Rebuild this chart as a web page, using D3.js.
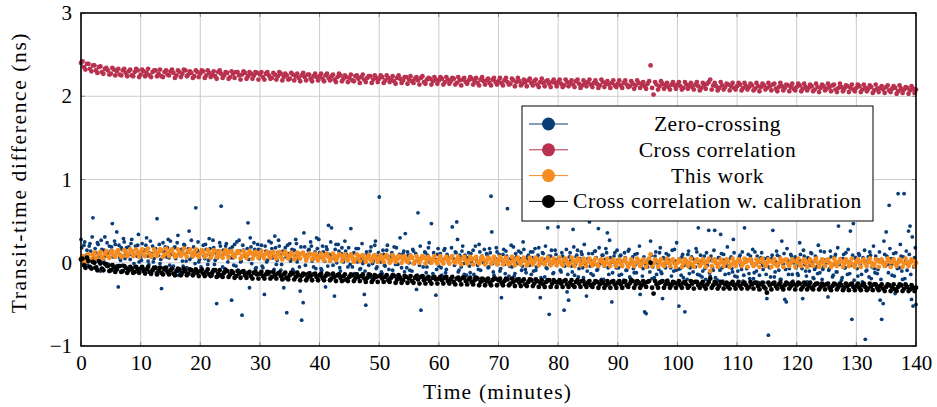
<!DOCTYPE html>
<html>
<head>
<meta charset="utf-8">
<script src="https://cdn.jsdelivr.net/npm/d3@7"></script>
<style>
  body { margin: 0; background: #fff; }
  svg text { font-family: "Liberation Serif", "DejaVu Serif", serif; fill: #000; }
</style>
</head>
<body>
<svg id="chart" width="937" height="407"></svg>
<script>
// sampling of the series (minutes between samples)
var blueStep = 0.25;
var bandStep = 0.5;

// Zero-crossing (ns), samples at t = 0, 0.25, 0.5, ...
var zeroCrossing = [
  0.28, 0.05, 0.21, -0.02, 0.15, 0.10, 0.23, 0.02, 0.54, -0.06, 0.12, 0.24, 0.08, -0.10, 0.16, 0.03, 0.31, -0.04, 0.11, 0.20,
  0.14, 0.47, -0.08, 0.22, 0.37, -0.29, 0.06, 0.18, -0.03, 0.25, 0.11, -0.12, 0.19, 0.04, 0.28, 0.09, -0.05, 0.16, 0.21, 0.01,
  0.07, 0.23, -0.07, 0.15, 0.30, 0.02, 0.12, -0.14, 0.20, 0.05, 0.17, 0.53, 0.09, -0.01, -0.31, 0.24, 0.13, -0.09, 0.18, 0.06,
  0.26, 0.10, -0.04, 0.19, 0.08, 0.33, -0.11, 0.14, 0.02, 0.22, 0.11, -0.06, 0.17, 0.04, 0.27, 0.09, -0.13, 0.66, 0.15, 0.01,
  0.12, -0.08, 0.21, 0.05, 0.16, -0.02, 0.29, 0.09, -0.15, 0.18, 0.03, -0.49, 0.14, 0.24, 0.68, -0.05, 0.11, 0.20, -0.10, 0.07,
  0.17, -0.45, 0.06, 0.22, -0.04, 0.13, 0.27, 0.01, -0.63, 0.15, 0.08, -0.12, 0.48, -0.30, 0.19, 0.05, 0.24, -0.07, 0.10, 0.16,
  0.09, 0.21, -0.06, -0.38, 0.14, 0.03, 0.26, -0.11, 0.17, 0.07, 0.32, -0.02, 0.12, 0.20, -0.09, 0.05, -0.30, 0.18, -0.60, 0.10,
  0.23, 0.04, -0.08, 0.15, 0.28, 0.01, 0.11, -0.34, -0.69, -0.48, 0.19, 0.06, -0.13, 0.16, 0.25, 0.02, -0.05, 0.13, 0.30, 0.08,
  0.12, -0.07, 0.20, 0.03, -0.29, 0.16, 0.45, 0.09, 0.42, -0.03, -0.40, 0.22, 0.07, 0.14, -0.10, 0.18, 0.01, 0.26, 0.10, -0.05,
  0.08, 0.41, -0.05, 0.12, -0.15, 0.04, 0.17, -0.08, 0.06, -0.01, -0.38, -0.51, 0.10, -0.03, 0.14, -0.18, 0.02, 0.21, -0.07, 0.07,
  0.79, 0.01, -0.13, 0.10, -0.04, 0.15, -0.19, 0.03, 0.08, -0.09, 0.19, -0.02, -0.16, 0.06, 0.30, -0.06, 0.11, -0.11, 0.04, 0.13,
  0.00, 0.09, -0.10, 0.14, 0.02, -0.32, 0.60, -0.03, -0.57, 0.07, -0.17, 0.12, -0.05, 0.18, 0.01, 0.47, -0.13, 0.05, -0.39, 0.10,
  -0.04, 0.11, -0.15, 0.04, 0.17, -0.08, 0.07, -0.01, -0.20, 0.43, 0.02, 0.13, 0.49, -0.11, 0.09, -0.05, 0.20, -0.14, 0.03, 0.06,
  0.12, -0.12, 0.01, 0.15, -0.18, 0.06, -0.03, 0.22, -0.09, 0.08, 0.00, -0.21, 0.11, -0.06, 0.17, 0.80, -0.01, -0.15, 0.05, 0.13,
  0.03, -0.10, -0.42, 0.10, -0.02, 0.14, 0.65, -0.16, 0.05, -0.05, 0.19, -0.13, 0.07, 0.01, -0.19, 0.12, -0.04, 0.16, -0.08, 0.04,
  0.09, -0.03, -0.14, 0.13, 0.02, -0.09, 0.06, 0.18, -0.42, 0.00, 0.11, -0.17, -0.06, 0.42, -0.62, 0.08, -0.01, -0.12, 0.15, 0.03,
  0.43, 0.01, -0.11, 0.08, -0.57, 0.04, -0.35, -0.45, 0.12, -0.04, 0.40, -0.15, 0.07, 0.15, -0.07, 0.02, 0.10, -0.18, -0.01, -0.40,
  0.05, 0.49, -0.13, 0.11, -0.02, 0.14, -0.09, 0.41, 0.03, -0.20, 0.09, -0.04, 0.17, 0.36, -0.14, 0.06, -0.47, 0.01, 0.12, -0.06,
  0.03, -0.15, 0.09, -0.04, -0.21, 0.06, -0.09, 0.14, -0.17, 0.00, 0.07, -0.12, -0.02, 0.11, -0.23, -0.38, 0.02, -0.07, -0.59, -0.61,
  -0.05, 0.04, 0.26, -0.19, -0.01, 0.08, -0.14, 0.01, 0.12, -0.11, -0.43, 0.05, -0.06, -0.22, 0.09, -0.03, -0.16, 0.03, 0.16, -0.09,
  0.00, -0.52, -0.07, 0.07, -0.18, -0.59, 0.02, 0.10, -0.13, -0.02, 0.05, -0.23, -0.05, 0.13, 0.42, -0.15, 0.01, -0.10, 0.08, -0.20,
  -0.03, 0.39, -0.16, 0.03, -0.09, 0.39, -0.01, -0.21, 0.06, 0.34, -0.06, 0.10, -0.14, 0.01, -0.04, -0.25, 0.07, -0.11, 0.12, -0.02,
  -0.17, 0.02, 0.09, -0.08, -0.22, 0.42, 0.04, -0.05, -0.13, 0.08, -0.01, -0.19, 0.13, -0.10, 0.03, -0.15, 0.06, -0.03, -0.24, 0.00,
  -0.43, -0.87, -0.06, 0.05, 0.39, -0.17, 0.01, 0.09, -0.09, -0.20, 0.26, -0.02, -0.44, -0.47, 0.03, -0.07, 0.10, -0.14, 0.00, 0.07,
  -0.04, -0.15, 0.24, 0.02, -0.43, 0.08, -0.10, -0.23, 0.04, -0.03, 0.11, -0.18, -0.08, 0.06, -0.13, -0.01, 0.14, -0.20, -0.05, 0.03,
  0.00, -0.41, -0.07, 0.07, -0.17, -0.02, 0.10, -0.11, 0.44, 0.02, -0.21, 0.05, -0.06, 0.12, -0.14, 0.01, 0.38, -0.68, 0.47, -0.03,
  0.04, -0.16, 0.09, -0.04, -0.23, 0.02, -0.92, -0.09, 0.07, 0.13, -0.19, -0.01, -0.07, 0.08, -0.13, 0.03, -0.45, -0.68, -0.49, 0.10,
  0.37, -0.02, 0.69, 0.05, -0.15, 0.11, -0.37, 0.00, 0.83, -0.06, 0.08, -0.20, 0.83, 0.02, -0.09, 0.38, 0.44, -0.44, -0.52, 0.06,
  -0.50
];
// Zero-crossing (ns), in-between samples at t = 0.125, 0.375, ...
var zeroCrossingMid = [
  0.18, 0.02, 0.25, 0.09, -0.03, 0.20, 0.14, 0.31, 0.06, 0.17, -0.05, 0.22, 0.11, 0.27, 0.01, 0.15, 0.08, 0.24, -0.02, 0.13,
  0.19, 0.07, 0.26, -0.04, 0.12, 0.21, 0.03, 0.16, 0.29, 0.05, 0.18, -0.08, 0.10, 0.23, 0.14, -0.01, 0.20, 0.08, 0.34, 0.12,
  0.03, 0.15, -0.09, 0.21, 0.08, -0.02, 0.26, 0.11, 0.01, 0.17, -0.12, 0.09, 0.22, 0.04, 0.14, -0.06, 0.19, 0.07, 0.28, -0.03,
  0.12, -0.07, 0.18, 0.05, 0.24, -0.15, 0.10, 0.16, -0.04, 0.21, 0.02, 0.13, 0.38, -0.09, 0.07, 0.19, -0.01, 0.11, 0.25, 0.04,
  -0.05, 0.14, 0.08, 0.22, -0.11, 0.03, 0.17, 0.10, 0.27, -0.02, 0.12, 0.06, -0.16, 0.20, 0.09, 0.15, -0.07, 0.23, 0.01, 0.13,
  0.06, 0.19, -0.03, 0.11, 0.25, -0.09, 0.14, 0.02, 0.21, 0.08, -0.13, 0.17, 0.04, 0.30, -0.01, 0.10, 0.16, -0.06, 0.22, 0.05,
  0.15, -0.04, 0.09, 0.20, 0.01, -0.14, 0.12, 0.24, 0.06, -0.08, 0.18, 0.03, 0.27, 0.10, -0.02, 0.14, -0.19, 0.07, 0.21, 0.11,
  0.02, 0.16, -0.10, 0.08, 0.23, 0.05, -0.05, 0.19, 0.12, 0.36, -0.03, 0.09, 0.15, -0.12, 0.20, 0.04, 0.11, -0.07, 0.17, 0.28,
  0.07, -0.09, 0.13, 0.02, 0.19, -0.04, 0.10, 0.25, -0.15, 0.06, 0.16, 0.00, 0.22, -0.06, 0.11, 0.04, -0.21, 0.14, 0.08, 0.18,
  -0.02, 0.10, 0.04, -0.13, 0.17, 0.01, 0.08, -0.07, 0.23, 0.03, -0.10, 0.13, 0.06, -0.17, 0.19, -0.01, 0.09, 0.26, -0.05, 0.12,
  0.04, -0.11, 0.15, -0.03, 0.08, 0.21, -0.08, 0.02, 0.12, -0.14, 0.06, 0.18, -0.02, 0.10, -0.20, 0.05, 0.14, 0.35, -0.06, 0.09,
  -0.09, 0.07, 0.16, -0.01, 0.11, -0.15, 0.03, 0.20, 0.06, -0.05, 0.13, -0.12, 0.09, 0.24, 0.00, -0.18, 0.12, 0.04, -0.08, 0.17,
  0.08, -0.06, 0.02, 0.15, -0.12, 0.10, 0.01, -0.19, 0.18, 0.05, -0.03, 0.12, 0.28, -0.09, 0.06, 0.14, -0.01, 0.09, -0.15, 0.03,
  -0.04, 0.11, 0.05, -0.14, 0.20, 0.02, -0.08, 0.13, 0.07, -0.22, 0.16, 0.00, 0.09, -0.05, 0.12, 0.37, -0.11, 0.04, 0.18, -0.02,
  0.10, -0.07, 0.03, 0.16, -0.13, 0.08, 0.01, -0.04, 0.21, 0.06, -0.16, 0.11, -0.01, 0.14, 0.05, -0.09, 0.25, 0.02, -0.12, 0.07,
  -0.03, 0.13, 0.06, -0.10, 0.17, -0.05, 0.09, 0.02, -0.18, 0.12, 0.04, 0.20, -0.07, 0.08, -0.02, 0.15, -0.13, 0.03, 0.10, -0.25,
  0.06, -0.09, 0.12, 0.01, -0.04, 0.16, -0.14, 0.07, 0.03, -0.11, 0.19, -0.02, 0.09, -0.17, 0.05, 0.13, -0.06, 0.22, 0.00, -0.10,
  0.11, -0.04, 0.02, -0.15, 0.14, 0.06, -0.08, 0.18, -0.01, 0.09, -0.20, 0.04, 0.12, -0.06, 0.27, 0.01, -0.12, 0.08, -0.03, 0.15,
  -0.06, 0.08, -0.14, 0.02, 0.12, -0.09, -0.02, 0.16, -0.19, 0.05, -0.07, 0.10, -0.12, 0.01, 0.20, -0.04, -0.16, 0.07, -0.01, -0.23,
  0.04, -0.11, 0.09, -0.05, -0.18, 0.13, 0.00, -0.08, 0.18, -0.13, 0.06, -0.02, 0.11, -0.21, 0.03, -0.06, 0.15, -0.10, 0.02, 0.24,
  -0.08, 0.05, -0.15, 0.10, -0.03, 0.01, -0.20, 0.14, -0.06, 0.07, -0.11, 0.03, 0.17, -0.14, -0.01, 0.09, -0.17, 0.04, -0.07, 0.12,
  0.02, -0.12, 0.08, -0.05, 0.15, -0.18, -0.01, 0.06, -0.09, 0.11, -0.22, 0.03, -0.04, 0.19, -0.13, 0.05, -0.07, 0.28, -0.16, 0.00,
  -0.10, 0.07, -0.03, 0.13, -0.15, 0.02, -0.07, 0.10, -0.19, 0.04, 0.16, -0.12, -0.02, 0.08, -0.24, 0.01, 0.12, -0.08, 0.05, -0.14,
  0.06, -0.05, -0.17, 0.09, 0.00, -0.11, 0.14, -0.03, 0.07, -0.20, 0.02, 0.11, -0.08, 0.17, -0.14, -0.01, 0.08, -0.22, 0.04, -0.06,
  -0.13, 0.03, 0.10, -0.07, 0.15, -0.02, -0.16, 0.06, -0.10, 0.12, 0.00, -0.19, 0.08, -0.05, 0.21, -0.12, 0.02, -0.08, 0.13, -0.26,
  0.01, -0.09, 0.14, -0.04, -0.15, 0.07, -0.11, 0.18, -0.02, 0.05, -0.18, 0.10, -0.06, 0.03, 0.16, -0.13, -0.03, 0.09, -0.21, 0.06,
  -0.07, 0.11, -0.02, -0.14, 0.06, 0.15, -0.10, 0.02, -0.17, 0.09, -0.05, 0.20, -0.12, 0.04, -0.08, 0.13, -0.20, 0.01, 0.26, -0.04,
  0.08, -0.12, 0.17, -0.03, 0.05, -0.16, 0.12, -0.07, 0.02, 0.22, -0.10, 0.07, -0.19, 0.14, -0.01, 0.10, -0.14, 0.31, -0.05, 0.18
];

// Cross correlation (ns), samples at t = 0, 0.5, 1, ...
var crossCorr = [
  2.40, 2.35, 2.39, 2.33, 2.37, 2.31, 2.35, 2.29, 2.33, 2.31, 2.27, 2.32, 2.30, 2.26, 2.31, 2.28, 2.30, 2.25, 2.29, 2.31,
  2.26, 2.30, 2.28, 2.25, 2.29, 2.31, 2.27, 2.24, 2.29, 2.26, 2.30, 2.28, 2.25, 2.29, 2.27, 2.31, 2.26, 2.28, 2.24, 2.29,
  2.27, 2.30, 2.25, 2.28, 2.26, 2.24, 2.29, 2.27, 2.25, 2.28, 2.23, 2.27, 2.29, 2.25, 2.26, 2.28, 2.24, 2.27, 2.25, 2.28,
  2.26, 2.23, 2.27, 2.25, 2.22, 2.26, 2.24, 2.27, 2.23, 2.25, 2.21, 2.26, 2.24, 2.22, 2.25, 2.23, 2.26, 2.21, 2.24, 2.23,
  2.24, 2.21, 2.25, 2.22, 2.24, 2.20, 2.23, 2.25, 2.21, 2.23, 2.22, 2.19, 2.24, 2.21, 2.23, 2.20, 2.22, 2.24, 2.20, 2.22,
  2.21, 2.23, 2.19, 2.22, 2.20, 2.18, 2.22, 2.21, 2.19, 2.23, 2.20, 2.18, 2.21, 2.19, 2.22, 2.17, 2.20, 2.21, 2.18, 2.20,
  2.19, 2.21, 2.17, 2.20, 2.18, 2.21, 2.16, 2.19, 2.20, 2.17, 2.19, 2.21, 2.18, 2.16, 2.20, 2.18, 2.19, 2.16, 2.20, 2.17,
  2.18, 2.16, 2.19, 2.17, 2.15, 2.19, 2.17, 2.18, 2.15, 2.17, 2.19, 2.16, 2.18, 2.14, 2.17, 2.16, 2.18, 2.15, 2.17, 2.16,
  2.17, 2.15, 2.13, 2.17, 2.16, 2.14, 2.18, 2.15, 2.13, 2.16, 2.17, 2.14, 2.16, 2.15, 2.13, 2.17, 2.15, 2.14, 2.16, 2.13,
  2.15, 2.13, 2.16, 2.14, 2.12, 2.15, 2.13, 2.16, 2.14, 2.12, 2.15, 2.37, 2.02, 2.14, 2.12, 2.15, 2.13, 2.11, 2.14, 2.13,
  2.14, 2.12, 2.10, 2.14, 2.13, 2.11, 2.14, 2.12, 2.10, 2.13, 2.15, 2.20, 2.13, 2.12, 2.10, 2.13, 2.11, 2.14, 2.12, 2.10,
  2.12, 2.14, 2.10, 2.12, 2.11, 2.13, 2.09, 2.12, 2.11, 2.13, 2.10, 2.12, 2.14, 2.09, 2.11, 2.12, 2.10, 2.13, 2.11, 2.09,
  2.11, 2.13, 2.09, 2.11, 2.10, 2.12, 2.08, 2.11, 2.10, 2.12, 2.09, 2.11, 2.13, 2.08, 2.10, 2.11, 2.09, 2.12, 2.10, 2.08,
  2.10, 2.12, 2.08, 2.10, 2.09, 2.11, 2.07, 2.09, 2.10, 2.08, 2.11, 2.07, 2.09, 2.10, 2.06, 2.09, 2.08, 2.10, 2.07, 2.09,
  2.08
];
// Cross correlation (ns), in-between samples at t = 0.25, 0.75, ...
var crossCorrMid = [
  2.42, 2.32, 2.39, 2.30, 2.37, 2.28, 2.36, 2.27, 2.34, 2.26, 2.34, 2.25, 2.33, 2.25, 2.33, 2.24, 2.32, 2.24, 2.33, 2.23,
  2.32, 2.24, 2.33, 2.23, 2.31, 2.24, 2.32, 2.23, 2.31, 2.25, 2.32, 2.22, 2.31, 2.23, 2.32, 2.24, 2.30, 2.22, 2.31, 2.23,
  2.31, 2.22, 2.31, 2.23, 2.30, 2.21, 2.31, 2.22, 2.29, 2.21, 2.30, 2.22, 2.29, 2.20, 2.30, 2.21, 2.29, 2.21, 2.29, 2.20,
  2.29, 2.20, 2.29, 2.21, 2.28, 2.20, 2.29, 2.19, 2.27, 2.20, 2.28, 2.19, 2.27, 2.18, 2.28, 2.19, 2.26, 2.18, 2.27, 2.19,
  2.27, 2.18, 2.27, 2.19, 2.26, 2.17, 2.27, 2.18, 2.25, 2.17, 2.26, 2.18, 2.25, 2.16, 2.26, 2.17, 2.24, 2.16, 2.25, 2.17,
  2.25, 2.16, 2.25, 2.17, 2.24, 2.15, 2.25, 2.16, 2.23, 2.15, 2.24, 2.16, 2.23, 2.14, 2.24, 2.15, 2.22, 2.14, 2.23, 2.15,
  2.23, 2.14, 2.23, 2.15, 2.22, 2.14, 2.23, 2.13, 2.22, 2.15, 2.23, 2.14, 2.22, 2.13, 2.23, 2.14, 2.21, 2.13, 2.22, 2.14,
  2.22, 2.13, 2.22, 2.14, 2.21, 2.12, 2.22, 2.13, 2.20, 2.12, 2.21, 2.13, 2.20, 2.11, 2.21, 2.12, 2.19, 2.11, 2.20, 2.12,
  2.20, 2.11, 2.20, 2.12, 2.19, 2.11, 2.20, 2.10, 2.19, 2.12, 2.20, 2.11, 2.19, 2.10, 2.20, 2.11, 2.18, 2.10, 2.19, 2.11,
  2.19, 2.10, 2.19, 2.11, 2.18, 2.09, 2.19, 2.10, 2.17, 2.09, 2.18, 2.10, 2.17, 2.08, 2.18, 2.09, 2.16, 2.08, 2.17, 2.09,
  2.17, 2.08, 2.17, 2.09, 2.16, 2.08, 2.17, 2.07, 2.16, 2.09, 2.17, 2.08, 2.16, 2.07, 2.17, 2.08, 2.15, 2.07, 2.16, 2.08,
  2.16, 2.07, 2.16, 2.08, 2.15, 2.07, 2.16, 2.06, 2.15, 2.08, 2.16, 2.07, 2.15, 2.06, 2.16, 2.07, 2.14, 2.06, 2.15, 2.07,
  2.15, 2.06, 2.15, 2.07, 2.14, 2.06, 2.15, 2.05, 2.14, 2.07, 2.15, 2.06, 2.14, 2.05, 2.15, 2.06, 2.13, 2.05, 2.14, 2.06,
  2.14, 2.05, 2.14, 2.06, 2.13, 2.04, 2.14, 2.05, 2.12, 2.04, 2.13, 2.05, 2.12, 2.03, 2.13, 2.04, 2.11, 2.03, 2.12, 2.04
];

// This work (ns), samples at t = 0, 0.5, 1, ...
var thisWork = [
  0.05, 0.02, 0.08, 0.04, 0.09, 0.06, 0.10, 0.07, 0.11, 0.08, 0.12, 0.09, 0.13, 0.10, 0.08, 0.13, 0.11, 0.14, 0.10, 0.12,
  0.13, 0.10, 0.14, 0.11, 0.09, 0.13, 0.12, 0.15, 0.10, 0.12, 0.14, 0.11, 0.09, 0.13, 0.12, 0.10, 0.14, 0.11, 0.13, 0.09,
  0.11, 0.13, 0.09, 0.12, 0.10, 0.14, 0.11, 0.08, 0.12, 0.10, 0.13, 0.09, 0.11, 0.12, 0.08, 0.11, 0.10, 0.12, 0.09, 0.11,
  0.10, 0.08, 0.11, 0.09, 0.12, 0.08, 0.10, 0.07, 0.11, 0.09, 0.08, 0.10, 0.06, 0.09, 0.11, 0.08, 0.07, 0.10, 0.08, 0.06,
  0.08, 0.06, 0.09, 0.07, 0.05, 0.08, 0.06, 0.09, 0.07, 0.05, 0.08, 0.06, 0.04, 0.07, 0.08, 0.05, 0.06, 0.04, 0.07, 0.05,
  0.06, 0.04, 0.07, 0.05, 0.03, 0.06, 0.04, 0.07, 0.05, 0.03, 0.05, 0.06, 0.02, 0.05, 0.04, 0.06, 0.03, 0.05, 0.04, 0.02,
  0.04, 0.02, 0.05, 0.03, 0.06, 0.02, 0.04, 0.01, 0.05, 0.03, 0.02, 0.04, 0.05, 0.01, 0.03, 0.04, 0.02, 0.05, 0.01, 0.03,
  0.02, 0.04, 0.01, 0.03, 0.00, 0.02, 0.04, 0.01, 0.03, 0.02, 0.00, 0.03, 0.01, 0.04, 0.02, 0.00, 0.02, 0.03, 0.00, 0.01,
  0.02, 0.00, 0.03, 0.01, -0.01, 0.02, 0.01, 0.03, -0.01, 0.01, 0.02, 0.00, 0.01, -0.02, 0.02, 0.00, 0.01, -0.01, 0.02, 0.00,
  0.01, -0.01, 0.02, 0.00, -0.02, 0.01, 0.00, 0.02, -0.01, 0.01, 0.00, 0.10, -0.01, 0.02, 0.00, -0.02, 0.01, 0.00, 0.02, -0.01,
  0.00, 0.02, -0.01, 0.01, 0.00, -0.02, 0.01, 0.02, -0.01, 0.00, 0.01, -0.10, 0.02, 0.00, -0.01, 0.01, 0.00, 0.02, -0.02, 0.01,
  0.00, 0.02, -0.01, 0.01, 0.03, 0.00, -0.02, 0.01, 0.02, 0.00, -0.01, 0.02, 0.01, -0.02, 0.00, 0.01, 0.03, -0.01, 0.00, 0.02,
  0.01, -0.01, 0.02, 0.00, 0.01, -0.02, 0.02, 0.00, -0.01, 0.01, 0.02, 0.00, -0.02, 0.01, 0.00, 0.02, -0.01, 0.01, 0.00, -0.02,
  0.01, 0.00, 0.02, -0.01, 0.01, 0.00, -0.02, 0.02, 0.01, -0.01, 0.00, 0.02, 0.01, -0.01, 0.00, 0.02, -0.01, 0.01, 0.00, 0.02,
  0.00
];
// This work (ns), in-between samples at t = 0.25, 0.75, ...
var thisWorkMid = [
  0.08, 0.01, 0.10, 0.03, 0.12, 0.04, 0.13, 0.05, 0.14, 0.06, 0.14, 0.07, 0.15, 0.07, 0.15, 0.08, 0.16, 0.08, 0.16, 0.07,
  0.16, 0.08, 0.17, 0.07, 0.16, 0.08, 0.16, 0.07, 0.17, 0.08, 0.16, 0.07, 0.16, 0.08, 0.17, 0.07, 0.16, 0.08, 0.16, 0.07,
  0.15, 0.07, 0.15, 0.06, 0.15, 0.07, 0.14, 0.06, 0.15, 0.06, 0.14, 0.07, 0.14, 0.05, 0.14, 0.06, 0.14, 0.05, 0.13, 0.06,
  0.14, 0.05, 0.13, 0.06, 0.13, 0.05, 0.13, 0.04, 0.13, 0.05, 0.12, 0.04, 0.12, 0.05, 0.12, 0.03, 0.11, 0.04, 0.11, 0.03,
  0.11, 0.03, 0.11, 0.02, 0.11, 0.03, 0.10, 0.02, 0.10, 0.03, 0.10, 0.01, 0.10, 0.02, 0.09, 0.01, 0.09, 0.02, 0.09, 0.01,
  0.09, 0.01, 0.09, 0.00, 0.09, 0.01, 0.08, 0.00, 0.08, 0.01, 0.08, -0.01, 0.08, 0.00, 0.08, -0.01, 0.07, 0.00, 0.08, -0.01,
  0.08, -0.01, 0.07, -0.01, 0.08, 0.00, 0.07, -0.02, 0.07, -0.01, 0.07, -0.02, 0.07, -0.01, 0.07, -0.02, 0.06, -0.01, 0.07, -0.02,
  0.07, -0.02, 0.06, -0.02, 0.07, -0.03, 0.06, -0.02, 0.06, -0.03, 0.06, -0.02, 0.06, -0.03, 0.05, -0.02, 0.06, -0.03, 0.05, -0.03,
  0.06, -0.03, 0.05, -0.03, 0.06, -0.04, 0.05, -0.03, 0.05, -0.04, 0.05, -0.03, 0.05, -0.04, 0.04, -0.03, 0.05, -0.04, 0.04, -0.04,
  0.04, -0.04, 0.05, -0.05, 0.04, -0.04, 0.05, -0.04, 0.04, -0.05, 0.05, -0.04, 0.04, -0.05, 0.04, -0.04, 0.05, -0.04, 0.04, -0.05,
  0.04, -0.05, 0.04, -0.04, 0.05, -0.05, 0.04, -0.04, 0.04, -0.05, 0.05, -0.04, 0.04, -0.05, 0.04, -0.04, 0.04, -0.05, 0.05, -0.04,
  0.04, -0.04, 0.05, -0.05, 0.04, -0.04, 0.04, -0.05, 0.05, -0.04, 0.04, -0.05, 0.04, -0.04, 0.05, -0.05, 0.04, -0.04, 0.04, -0.05,
  0.05, -0.04, 0.04, -0.05, 0.04, -0.04, 0.05, -0.05, 0.04, -0.04, 0.04, -0.05, 0.05, -0.04, 0.04, -0.05, 0.04, -0.04, 0.05, -0.05,
  0.04, -0.05, 0.04, -0.04, 0.05, -0.04, 0.04, -0.05, 0.04, -0.04, 0.05, -0.05, 0.04, -0.04, 0.04, -0.05, 0.05, -0.04, 0.04, -0.04
];

// Cross correlation w. calibration (ns), samples at t = 0, 0.5, 1, ...
var crossCorrCal = [
  0.04, -0.03, 0.06, -0.05, 0.01, -0.06, 0.02, -0.07, -0.01, -0.04, -0.09, -0.05, -0.08, -0.04, -0.10, -0.06, -0.09, -0.07, -0.11, -0.08,
  -0.07, -0.10, -0.08, -0.11, -0.09, -0.06, -0.10, -0.12, -0.08, -0.11, -0.09, -0.13, -0.10, -0.08, -0.12, -0.10, -0.13, -0.09, -0.11, -0.12,
  -0.10, -0.13, -0.11, -0.14, -0.12, -0.09, -0.13, -0.15, -0.12, -0.10, -0.14, -0.12, -0.16, -0.13, -0.11, -0.15, -0.13, -0.16, -0.12, -0.14,
  -0.13, -0.16, -0.14, -0.12, -0.17, -0.15, -0.13, -0.16, -0.14, -0.18, -0.15, -0.13, -0.17, -0.15, -0.16, -0.14, -0.18, -0.16, -0.14, -0.17,
  -0.15, -0.18, -0.16, -0.14, -0.19, -0.17, -0.15, -0.18, -0.16, -0.20, -0.17, -0.15, -0.19, -0.17, -0.16, -0.19, -0.18, -0.15, -0.20, -0.17,
  -0.16, -0.19, -0.17, -0.21, -0.18, -0.16, -0.20, -0.18, -0.21, -0.17, -0.19, -0.22, -0.18, -0.20, -0.17, -0.21, -0.19, -0.22, -0.18, -0.20,
  -0.19, -0.21, -0.18, -0.22, -0.20, -0.23, -0.19, -0.21, -0.18, -0.22, -0.20, -0.23, -0.21, -0.19, -0.23, -0.20, -0.22, -0.24, -0.21, -0.19,
  -0.21, -0.24, -0.22, -0.20, -0.25, -0.23, -0.21, -0.24, -0.22, -0.26, -0.23, -0.21, -0.25, -0.22, -0.24, -0.26, -0.23, -0.21, -0.25, -0.23,
  -0.23, -0.25, -0.22, -0.26, -0.24, -0.27, -0.23, -0.25, -0.22, -0.26, -0.24, -0.27, -0.25, -0.23, -0.26, -0.24, -0.27, -0.25, -0.23, -0.26,
  -0.24, -0.26, -0.23, -0.27, -0.25, -0.22, -0.26, -0.24, -0.27, -0.25, -0.23, 0.00, -0.37, -0.26, -0.24, -0.22, -0.26, -0.25, -0.27, -0.24,
  -0.25, -0.27, -0.24, -0.26, -0.28, -0.25, -0.23, -0.27, -0.25, -0.28, -0.26, -0.19, -0.27, -0.25, -0.28, -0.24, -0.26, -0.29, -0.25, -0.27,
  -0.26, -0.28, -0.25, -0.27, -0.29, -0.26, -0.24, -0.28, -0.26, -0.29, -0.36, -0.27, -0.25, -0.28, -0.26, -0.29, -0.27, -0.25, -0.28, -0.26,
  -0.27, -0.25, -0.29, -0.26, -0.28, -0.30, -0.27, -0.25, -0.29, -0.27, -0.26, -0.30, -0.28, -0.26, -0.29, -0.27, -0.30, -0.28, -0.26, -0.29,
  -0.28, -0.30, -0.27, -0.29, -0.31, -0.28, -0.26, -0.30, -0.28, -0.31, -0.29, -0.27, -0.30, -0.32, -0.29, -0.27, -0.31, -0.29, -0.32, -0.30,
  -0.30
];
// Cross correlation w. calibration (ns), in-between samples at t = 0.25, 0.75, ...
var crossCorrCalMid = [
  0.05, -0.06, 0.02, -0.07, 0.00, -0.09, -0.01, -0.09, -0.02, -0.10, -0.03, -0.11, -0.04, -0.11, -0.04, -0.12, -0.05, -0.12, -0.05, -0.12,
  -0.05, -0.13, -0.05, -0.13, -0.06, -0.14, -0.06, -0.14, -0.06, -0.14, -0.07, -0.15, -0.07, -0.15, -0.07, -0.15, -0.08, -0.15, -0.08, -0.16,
  -0.08, -0.16, -0.08, -0.16, -0.09, -0.17, -0.09, -0.17, -0.09, -0.17, -0.10, -0.18, -0.10, -0.18, -0.10, -0.18, -0.11, -0.19, -0.11, -0.19,
  -0.11, -0.19, -0.11, -0.19, -0.11, -0.19, -0.12, -0.20, -0.12, -0.20, -0.12, -0.20, -0.12, -0.21, -0.13, -0.21, -0.13, -0.21, -0.13, -0.21,
  -0.13, -0.21, -0.13, -0.21, -0.13, -0.22, -0.14, -0.22, -0.14, -0.22, -0.14, -0.22, -0.14, -0.22, -0.14, -0.23, -0.14, -0.23, -0.15, -0.23,
  -0.15, -0.23, -0.15, -0.23, -0.15, -0.24, -0.15, -0.24, -0.16, -0.24, -0.16, -0.24, -0.16, -0.25, -0.16, -0.25, -0.17, -0.25, -0.17, -0.25,
  -0.17, -0.25, -0.17, -0.25, -0.17, -0.26, -0.18, -0.26, -0.18, -0.26, -0.18, -0.26, -0.18, -0.27, -0.19, -0.27, -0.19, -0.27, -0.19, -0.27,
  -0.19, -0.27, -0.19, -0.27, -0.19, -0.28, -0.20, -0.28, -0.20, -0.28, -0.20, -0.28, -0.20, -0.29, -0.21, -0.29, -0.21, -0.29, -0.21, -0.29,
  -0.21, -0.29, -0.21, -0.29, -0.21, -0.29, -0.21, -0.29, -0.22, -0.29, -0.22, -0.29, -0.22, -0.30, -0.22, -0.30, -0.22, -0.30, -0.22, -0.30,
  -0.22, -0.30, -0.22, -0.29, -0.21, -0.30, -0.22, -0.30, -0.22, -0.29, -0.22, -0.30, -0.22, -0.30, -0.23, -0.30, -0.22, -0.30, -0.23, -0.30,
  -0.22, -0.30, -0.23, -0.30, -0.22, -0.31, -0.23, -0.30, -0.23, -0.31, -0.23, -0.30, -0.23, -0.31, -0.23, -0.31, -0.24, -0.31, -0.23, -0.31,
  -0.23, -0.31, -0.24, -0.31, -0.23, -0.31, -0.24, -0.32, -0.24, -0.31, -0.24, -0.32, -0.24, -0.31, -0.24, -0.32, -0.24, -0.31, -0.24, -0.32,
  -0.24, -0.32, -0.24, -0.32, -0.24, -0.32, -0.25, -0.32, -0.25, -0.32, -0.25, -0.33, -0.25, -0.32, -0.25, -0.33, -0.25, -0.33, -0.25, -0.33,
  -0.25, -0.33, -0.25, -0.33, -0.25, -0.33, -0.26, -0.33, -0.26, -0.34, -0.26, -0.34, -0.26, -0.34, -0.26, -0.34, -0.26, -0.34, -0.27, -0.34
];

var xTicks = [0, 10, 20, 30, 40, 50, 60, 70, 80, 90, 100, 110, 120, 130, 140];
var yTicks = [-1, 0, 1, 2, 3];

var seriesNames = ["Zero-crossing", "Cross correlation", "This work", "Cross correlation w. calibration"];
var seriesColors = ["#0a3d78", "#b8324f", "#f68c1f", "#000000"];

var svg = d3.select("#chart");
var margin = {top: 13, right: 21, bottom: 61, left: 81};
var width = +svg.attr("width") - margin.left - margin.right,
    height = +svg.attr("height") - margin.top - margin.bottom;
var g = svg.append("g").attr("transform", "translate(" + margin.left + "," + margin.top + ")");

var x = d3.scaleLinear().domain([0, 140]).range([0, width]);
var y = d3.scaleLinear().domain([-1, 3]).range([height, 0]);

// grid
g.append("g").selectAll("line")
  .data(xTicks.slice(1, -1)).enter().append("line")
  .attr("x1", d => x(d)).attr("x2", d => x(d))
  .attr("y1", 0).attr("y2", height)
  .attr("stroke", "#cccccc").attr("stroke-width", 1);
g.append("g").selectAll("line")
  .data(yTicks.slice(1, -1)).enter().append("line")
  .attr("x1", 0).attr("x2", width)
  .attr("y1", d => y(d)).attr("y2", d => y(d))
  .attr("stroke", "#cccccc").attr("stroke-width", 1);

// inward ticks on all four sides
var tk = g.append("g").attr("stroke", "#8a8a8a").attr("stroke-width", 1);
xTicks.forEach(function(d) {
  tk.append("line").attr("x1", x(d)).attr("x2", x(d)).attr("y1", height).attr("y2", height - 4);
  tk.append("line").attr("x1", x(d)).attr("x2", x(d)).attr("y1", 0).attr("y2", 4);
});
yTicks.forEach(function(d) {
  tk.append("line").attr("x1", 0).attr("x2", 4).attr("y1", y(d)).attr("y2", y(d));
  tk.append("line").attr("x1", width).attr("x2", width - 4).attr("y1", y(d)).attr("y2", y(d));
});

// data: sample i of an array sits at t = start + i * step
function plotDots(values, start, step, color, r) {
  g.append("g").selectAll("circle")
    .data(values).enter().append("circle")
    .attr("cx", (d, i) => x(start + i * step))
    .attr("cy", d => y(d))
    .attr("r", r)
    .attr("fill", color);
}
plotDots(zeroCrossing, 0, blueStep, seriesColors[0], 1.9);
plotDots(zeroCrossingMid, blueStep / 2, blueStep, seriesColors[0], 1.9);
plotDots(crossCorr, 0, bandStep, seriesColors[1], 2.4);
plotDots(crossCorrMid, bandStep / 2, bandStep, seriesColors[1], 2.4);
plotDots(thisWork, 0, bandStep, seriesColors[2], 2.4);
plotDots(thisWorkMid, bandStep / 2, bandStep, seriesColors[2], 2.4);
plotDots(crossCorrCal, 0, bandStep, seriesColors[3], 2.4);
plotDots(crossCorrCalMid, bandStep / 2, bandStep, seriesColors[3], 2.4);

// axes (labels only)
var xaxis = g.append("g")
  .attr("transform", "translate(0," + height + ")")
  .call(d3.axisBottom(x).tickValues(xTicks).tickSize(0).tickPadding(9).tickFormat(d3.format("d")));
var yaxis = g.append("g")
  .call(d3.axisLeft(y).tickValues(yTicks).tickSize(0).tickPadding(9)
    .tickFormat(d => d < 0 ? "\u2212" + Math.abs(d) : d));
[xaxis, yaxis].forEach(function(a) {
  a.select(".domain").remove();
  a.attr("font-family", null).attr("font-size", null);
  a.selectAll("text").style("font-size", "21px");
});

// frame
g.append("rect")
  .attr("width", width).attr("height", height)
  .attr("fill", "none").attr("stroke", "#000").attr("stroke-width", 1.6);

// axis titles
svg.append("text")
  .attr("x", margin.left + width / 2 - 1).attr("y", 399)
  .attr("text-anchor", "middle")
  .style("font-size", "21.5px").style("letter-spacing", "1.2px")
  .text("Time (minutes)");
svg.append("text")
  .attr("transform", "translate(26," + (margin.top + height / 2 - 7) + ")rotate(-90)")
  .attr("text-anchor", "middle")
  .style("font-size", "21.5px").style("letter-spacing", "1.6px")
  .text("Transit-time difference (ns)");

// legend
var legend = svg.append("g").attr("transform", "translate(522,106)");
legend.append("rect")
  .attr("width", 351).attr("height", 115)
  .attr("fill", "#fff").attr("stroke", "#000").attr("stroke-width", 1);
var rows = legend.selectAll("g.row")
  .data(seriesNames).enter().append("g")
  .attr("class", "row")
  .attr("transform", (d, i) => "translate(0," + (18 + i * 25.8) + ")");
rows.append("line")
  .attr("x1", 7).attr("x2", 46)
  .attr("stroke", (d, i) => seriesColors[i]).attr("stroke-width", 1);
rows.append("circle")
  .attr("cx", 26.5).attr("r", 6.5)
  .attr("fill", (d, i) => seriesColors[i]);
rows.append("text")
  .attr("x", 195.5).attr("y", 7)
  .attr("text-anchor", "middle")
  .style("font-size", "21.5px").style("letter-spacing", "0.6px")
  .text(d => d);
</script>
</body>
</html>
